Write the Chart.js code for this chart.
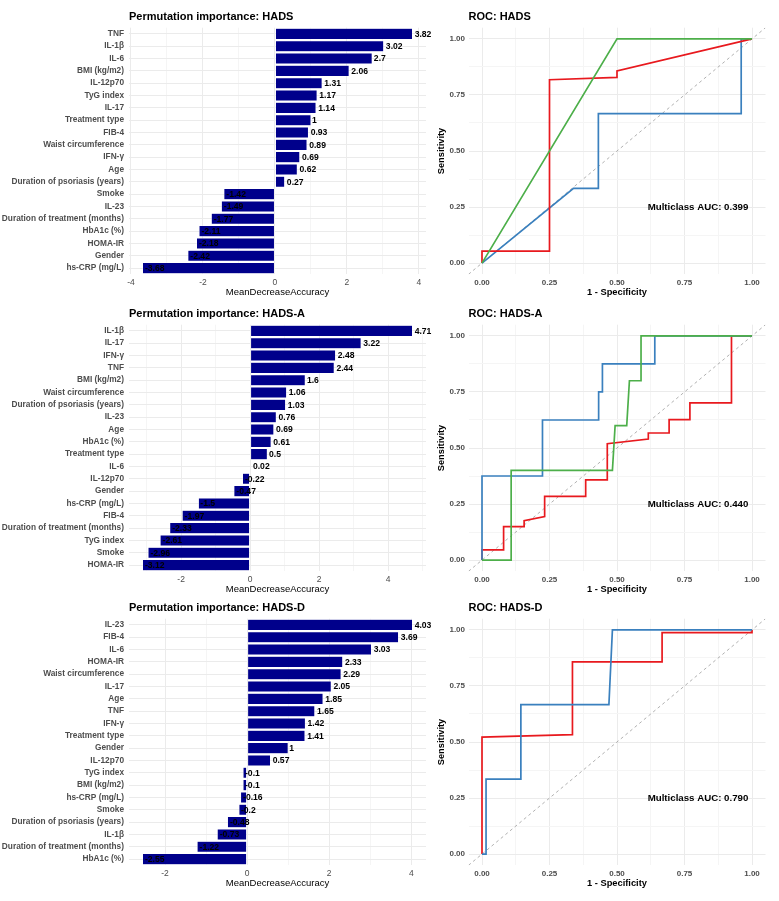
<!DOCTYPE html>
<html>
<head>
<meta charset="utf-8">
<script src="https://cdn.jsdelivr.net/npm/chart.js@4.4.1/dist/chart.umd.min.js"></script>
<style>
  html, body { margin: 0; padding: 0; background: #fff; }
  body { width: 779px; height: 901px; position: relative; overflow: hidden; }
  canvas { position: absolute; }
</style>
</head>
<body>
<canvas id="barHads" width="440" height="300" style="left:0px;top:0px"></canvas>
<canvas id="rocHads" width="349" height="300" style="left:430px;top:0px"></canvas>
<canvas id="barHadsA" width="440" height="300" style="left:0px;top:296.5px"></canvas>
<canvas id="rocHadsA" width="349" height="300" style="left:430px;top:296.5px"></canvas>
<canvas id="barHadsD" width="440" height="300" style="left:0px;top:591px"></canvas>
<canvas id="rocHadsD" width="349" height="300" style="left:430px;top:591px"></canvas>
<script>
// permutation importance, top to bottom
const hadsFeatures = ['TNF', 'IL-1β', 'IL-6', 'BMI (kg/m2)', 'IL-12p70', 'TyG index', 'IL-17', 'Treatment type', 'FIB-4', 'Waist circumference', 'IFN-γ', 'Age', 'Duration of psoriasis (years)', 'Smoke', 'IL-23', 'Duration of treatment (months)', 'HbA1c (%)', 'HOMA-IR', 'Gender', 'hs-CRP (mg/L)'];
const hadsImportance = [3.82, 3.02, 2.7, 2.06, 1.31, 1.17, 1.14, 1, 0.93, 0.89, 0.69, 0.62, 0.27, -1.42, -1.49, -1.77, -2.11, -2.18, -2.42, -3.68];

const hadsAFeatures = ['IL-1β', 'IL-17', 'IFN-γ', 'TNF', 'BMI (kg/m2)', 'Waist circumference', 'Duration of psoriasis (years)', 'IL-23', 'Age', 'HbA1c (%)', 'Treatment type', 'IL-6', 'IL-12p70', 'Gender', 'hs-CRP (mg/L)', 'FIB-4', 'Duration of treatment (months)', 'TyG index', 'Smoke', 'HOMA-IR'];
const hadsAImportance = [4.71, 3.22, 2.48, 2.44, 1.6, 1.06, 1.03, 0.76, 0.69, 0.61, 0.5, 0.02, -0.22, -0.47, -1.5, -1.97, -2.33, -2.61, -2.96, -3.12];

const hadsDFeatures = ['IL-23', 'FIB-4', 'IL-6', 'HOMA-IR', 'Waist circumference', 'IL-17', 'Age', 'TNF', 'IFN-γ', 'Treatment type', 'Gender', 'IL-12p70', 'TyG index', 'BMI (kg/m2)', 'hs-CRP (mg/L)', 'Smoke', 'Duration of psoriasis (years)', 'IL-1β', 'Duration of treatment (months)', 'HbA1c (%)'];
const hadsDImportance = [4.03, 3.69, 3.03, 2.33, 2.29, 2.05, 1.85, 1.65, 1.42, 1.41, 1, 0.57, -0.1, -0.1, -0.16, -0.2, -0.48, -0.73, -1.22, -2.55];

// ROC curves (1 - specificity, sensitivity)
const hadsRedFpr = [0, 0, 0.25, 0.25, 0.5, 0.5, 1];
const hadsRedTpr = [0, 0.053, 0.053, 0.818, 0.828, 0.857, 1];
const hadsBlueFpr = [0, 0.339, 0.431, 0.431, 0.96, 0.96, 1];
const hadsBlueTpr = [0, 0.333, 0.333, 0.667, 0.667, 1, 1];
const hadsGreenFpr = [0, 0.5, 1];
const hadsGreenTpr = [0, 1, 1];

const hadsARedFpr = [0, 0, 0.08, 0.08, 0.156, 0.156, 0.232, 0.232, 0.384, 0.384, 0.464, 0.464, 0.616, 0.616, 0.693, 0.693, 0.77, 0.77, 0.924, 0.924, 1];
const hadsARedTpr = [0, 0.046, 0.046, 0.149, 0.149, 0.176, 0.194, 0.284, 0.284, 0.358, 0.358, 0.519, 0.54, 0.567, 0.567, 0.627, 0.627, 0.701, 0.701, 1, 1];
const hadsABlueFpr = [0, 0, 0.224, 0.224, 0.432, 0.432, 0.446, 0.446, 0.64, 0.64, 1];
const hadsABlueTpr = [0, 0.375, 0.375, 0.625, 0.625, 0.75, 0.75, 0.875, 0.875, 1, 1];
const hadsAGreenFpr = [0, 0.108, 0.108, 0.483, 0.493, 0.536, 0.546, 0.589, 0.589, 1];
const hadsAGreenTpr = [0, 0, 0.4, 0.4, 0.6, 0.6, 0.8, 0.8, 1, 1];

const hadsDRedFpr = [0, 0, 0.335, 0.335, 0.667, 0.667, 1, 1];
const hadsDRedTpr = [0, 0.522, 0.533, 0.857, 0.857, 0.988, 0.988, 1];
const hadsDBlueFpr = [0, 0.015, 0.015, 0.144, 0.144, 0.47, 0.483, 1];
const hadsDBlueTpr = [0, 0, 0.334, 0.334, 0.667, 0.667, 1, 1];

const aucLabels = ['Multiclass AUC: 0.399', 'Multiclass AUC: 0.440', 'Multiclass AUC: 0.790'];

// axis ticks
const barMajorTicks = [-4, -2, 0, 2, 4];
const barMinorTicks = [-5, -3, -1, 1, 3, 5];
const rocMajorTicks = [0, 0.25, 0.5, 0.75, 1];
const rocMinorTicks = [-0.125, 0.125, 0.375, 0.625, 0.875, 1.125];

const FONT = "'Liberation Sans', Arial, sans-serif";
const GRID_MAJOR = '#EBEBEB';
const GRID_MINOR = '#F5F5F5';
const RED = '#E8191E';
const BLUE = '#3A80BE';
const GREEN = '#4DAF4A';
const ROC_MIN = -0.05;
const ROC_MAX = 1.05;

Chart.defaults.font.family = FONT;

const titleOpts = text => ({
  display: true, text, align: 'start', fullSize: false, color: '#000',
  font: { size: 11, weight: 'bold' }, padding: { top: 10.4, bottom: 4.1 }
});

const tickSetter = (major, minor) => scale => {
  scale.ticks = major.concat(minor)
    .filter(v => v >= scale.min && v <= scale.max)
    .sort((a, b) => a - b)
    .map(value => ({ value, major: major.includes(value) }));
};

const gridColor = major => c => (c.tick && major.includes(c.tick.value)) ? GRID_MAJOR : GRID_MINOR;

const padRange = values => {
  const lo = Math.min(...values), hi = Math.max(...values);
  const pad = (hi - lo) * 0.05;
  return [lo - pad, hi + pad];
};

const valueLabels = {
  id: 'valueLabels',
  afterDatasetsDraw(chart) {
    const ctx = chart.ctx;
    const values = chart.data.datasets[0].data;
    ctx.save();
    ctx.font = `bold 8.6px ${FONT}`;
    ctx.fillStyle = '#000';
    ctx.textAlign = 'left';
    ctx.textBaseline = 'middle';
    chart.getDatasetMeta(0).data.forEach((bar, i) => {
      const text = String(values[i]);
      const w = ctx.measureText(text).width;
      ctx.fillText(text, bar.x + w * 0.1 + 0.5, bar.y + 0.5);
    });
    ctx.restore();
  }
};

const aucLabel = {
  id: 'aucLabel',
  afterDatasetsDraw(chart, args, opts) {
    const { ctx, scales: { x, y } } = chart;
    ctx.save();
    ctx.font = `bold 9.7px ${FONT}`;
    ctx.fillStyle = '#000';
    ctx.textAlign = 'center';
    ctx.textBaseline = 'middle';
    ctx.fillText(opts.text, x.getPixelForValue(0.8), y.getPixelForValue(0.25));
    ctx.restore();
  }
};

function importanceChart(id, title, features, values) {
  const [lo, hi] = padRange(values);
  return new Chart(document.getElementById(id), {
    type: 'bar',
    data: {
      labels: features,
      datasets: [{
        data: values,
        backgroundColor: '#00008B',
        borderColor: '#FFFFFF',
        borderWidth: 0.5,
        borderSkipped: false,
        barPercentage: 0.9,
        categoryPercentage: 1
      }]
    },
    options: {
      indexAxis: 'y',
      responsive: false,
      animation: false,
      layout: { padding: { left: 0, right: 14, top: 0, bottom: 0 } },
      plugins: { legend: { display: false }, tooltip: { enabled: false }, title: titleOpts(title) },
      scales: {
        x: {
          type: 'linear', min: lo, max: hi,
          afterBuildTicks: tickSetter(barMajorTicks, barMinorTicks),
          ticks: {
            callback: v => barMajorTicks.includes(v) ? String(v) : '',
            font: { size: 8.5 }, color: '#4D4D4D', padding: 3, autoSkip: false, maxRotation: 0
          },
          grid: { color: gridColor(barMajorTicks), drawTicks: false },
          border: { display: false },
          title: { display: true, text: 'MeanDecreaseAccuracy', color: '#000', font: { size: 9.5 }, padding: { top: 0, bottom: 2.3 } },
          afterFit: s => { s.height = 25.7; }
        },
        y: {
          grid: { color: GRID_MAJOR, offset: false, drawTicks: false },
          border: { display: false },
          ticks: { font: { size: 8.3, weight: 'bold' }, color: '#4D4D4D', padding: 5, autoSkip: false },
          afterFit: s => { s.width = 129; }
        }
      }
    },
    plugins: [valueLabels]
  });
}

const curve = (fpr, tpr, color) => ({
  data: fpr.map((x, i) => ({ x, y: tpr[i] })),
  borderColor: color, borderWidth: 1.7, pointRadius: 0, showLine: true, fill: false
});

function rocChart(id, title, curves, auc) {
  const datasets = curves.concat([{
    data: [{ x: ROC_MIN, y: ROC_MIN }, { x: ROC_MAX, y: ROC_MAX }],
    borderColor: '#8F8F8F', borderWidth: 0.7, borderDash: [3, 3], pointRadius: 0, showLine: true
  }]);
  const axis = (text, fit) => ({
    type: 'linear', min: ROC_MIN, max: ROC_MAX,
    afterBuildTicks: tickSetter(rocMajorTicks, rocMinorTicks),
    ticks: {
      callback: v => rocMajorTicks.includes(v) ? v.toFixed(2) : '',
      font: { size: 8, weight: 'bold' }, color: '#4D4D4D', padding: 3.5, autoSkip: false, maxRotation: 0
    },
    grid: { color: gridColor(rocMajorTicks), drawTicks: false },
    border: { display: false },
    title: { display: true, text, color: '#000', font: { size: 9.3, weight: 'bold' }, padding: { top: 5.4, bottom: 2.3 } },
    afterFit: fit
  });
  return new Chart(document.getElementById(id), {
    type: 'scatter',
    data: { datasets },
    options: {
      responsive: false,
      animation: false,
      layout: { padding: { left: 0, right: 13.5, top: 0, bottom: 0 } },
      plugins: {
        legend: { display: false }, tooltip: { enabled: false },
        title: titleOpts(title),
        aucLabel: { text: auc }
      },
      scales: {
        x: axis('1 - Specificity', s => { s.height = 25.7; }),
        y: axis('Sensitivity', s => { s.width = 38.5; })
      }
    },
    plugins: [aucLabel]
  });
}

importanceChart('barHads', 'Permutation importance: HADS', hadsFeatures, hadsImportance);
importanceChart('barHadsA', 'Permutation importance: HADS-A', hadsAFeatures, hadsAImportance);
importanceChart('barHadsD', 'Permutation importance: HADS-D', hadsDFeatures, hadsDImportance);

rocChart('rocHads', 'ROC: HADS', [
  curve(hadsGreenFpr, hadsGreenTpr, GREEN),
  curve(hadsRedFpr, hadsRedTpr, RED),
  curve(hadsBlueFpr, hadsBlueTpr, BLUE)
], aucLabels[0]);
rocChart('rocHadsA', 'ROC: HADS-A', [
  curve(hadsAGreenFpr, hadsAGreenTpr, GREEN),
  curve(hadsABlueFpr, hadsABlueTpr, BLUE),
  curve(hadsARedFpr, hadsARedTpr, RED)
], aucLabels[1]);
rocChart('rocHadsD', 'ROC: HADS-D', [
  curve(hadsDBlueFpr, hadsDBlueTpr, BLUE),
  curve(hadsDRedFpr, hadsDRedTpr, RED)
], aucLabels[2]);
</script>
</body>
</html>
